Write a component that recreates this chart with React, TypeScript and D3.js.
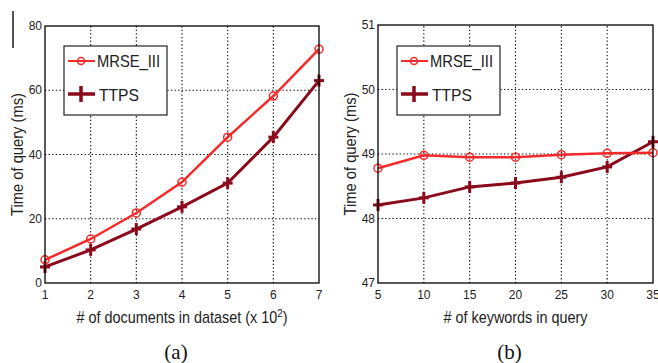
import * as d3 from 'd3';

// Panel (a): time vs number of documents (x 10^2)
const docsX = [1, 2, 3, 4, 5, 6, 7];
const docsMrse = [7.2, 13.7, 21.8, 31.4, 45.4, 58.2, 72.8];
const docsTtps = [5.0, 10.3, 16.8, 23.7, 31.1, 45.4, 63.0];
const docsYTicks = [0, 20, 40, 60, 80];

// Panel (b): time vs number of keywords
const kwX = [5, 10, 15, 20, 25, 30, 35];
const kwMrse = [48.78, 48.98, 48.95, 48.95, 48.99, 49.01, 49.02];
const kwTtps = [48.21, 48.32, 48.49, 48.55, 48.64, 48.8, 49.19];
const kwYTicks = [47, 48, 49, 50, 51];

const seriesNames = ['MRSE_III', 'TTPS'];

const RED = '#f52a2a';
const DARK = '#8a0a1c';
const FONT = '"Liberation Sans", Arial, sans-serif';

type PanelProps = {
  xs: number[];
  mrse: number[];
  ttps: number[];
  yTicks: number[];
  x0: number;
  x1: number;
  y0: number;
  y1: number;
  xLabel: React.ReactNode;
  xLabelScale: number;
  caption: string;
  yLabelX: number;
};

function Panel(p: PanelProps) {
  const x = d3.scaleLinear().domain([p.xs[0], p.xs[p.xs.length - 1]]).range([p.x0, p.x1]);
  const y = d3.scaleLinear().domain([p.yTicks[0], p.yTicks[p.yTicks.length - 1]]).range([p.y0, p.y1]);
  const line = d3.line<number>().x((_, i) => x(p.xs[i])).y((d) => y(d));
  const cx = (p.x0 + p.x1) / 2;
  const cy = (p.y0 + p.y1) / 2;
  const lx = p.x0 + 19;

  return (
    <g>
      {/* grid */}
      {p.xs.slice(1, -1).map((v) => (
        <line key={'gx' + v} x1={x(v)} x2={x(v)} y1={p.y0} y2={p.y1} stroke="#000" strokeWidth={1.1} strokeDasharray="1.3,2.3" />
      ))}
      {p.yTicks.slice(1, -1).map((v) => (
        <line key={'gy' + v} x1={p.x0} x2={p.x1} y1={y(v)} y2={y(v)} stroke="#000" strokeWidth={1.1} strokeDasharray="1.3,2.3" />
      ))}

      {/* lines */}
      <path d={line(p.ttps) || ''} fill="none" stroke={DARK} strokeWidth={3} />
      <path d={line(p.mrse) || ''} fill="none" stroke={RED} strokeWidth={2.5} />
      {p.ttps.map((v, i) => (
        <g key={'t' + i} stroke={DARK} strokeWidth={3}>
          <line x1={x(p.xs[i]) - 5} x2={x(p.xs[i]) + 5} y1={y(v)} y2={y(v)} />
          <line x1={x(p.xs[i])} x2={x(p.xs[i])} y1={y(v) - 6} y2={y(v) + 6} />
        </g>
      ))}
      {p.mrse.map((v, i) => (
        <circle key={'m' + i} cx={x(p.xs[i])} cy={y(v)} r={4} fill="none" stroke={RED} strokeWidth={1.5} />
      ))}

      {/* frame */}
      <rect x={p.x0} y={p.y1} width={p.x1 - p.x0} height={p.y0 - p.y1} fill="none" stroke="#000" strokeWidth={1.3} />

      {/* ticks */}
      {p.xs.map((v) => (
        <text key={'xt' + v} x={x(v)} y={p.y0 + 16} textAnchor="middle" fontSize={12} fontFamily={FONT} fill="#222">
          {v}
        </text>
      ))}
      {p.yTicks.map((v) => (
        <text key={'yt' + v} x={p.x0 - 3} y={y(v) + 4} textAnchor="end" fontSize={12} fontFamily={FONT} fill="#222">
          {v}
        </text>
      ))}

      {/* axis labels */}
      <text
        transform={`translate(${cx},${p.y0 + 40}) scale(${p.xLabelScale},1)`}
        textAnchor="middle"
        fontSize={16}
        fontFamily={FONT}
        fill="#222"
      >
        {p.xLabel}
      </text>
      <text
        transform={`translate(${p.yLabelX},${cy}) rotate(-90) scale(0.92,1)`}
        textAnchor="middle"
        fontSize={16}
        fontFamily={FONT}
        fill="#222"
      >
        Time of query (ms)
      </text>
      <text x={cx - 6} y={p.y0 + 76} textAnchor="middle" fontSize={21} fontFamily='"Liberation Serif", "Times New Roman", serif' fill="#111">
        {p.caption}
      </text>

      {/* legend */}
      <rect x={p.x0 + 19} y={46} width={103} height={69} fill="#fff" stroke="#222" strokeWidth={1.2} />
      <line x1={lx + 4} x2={lx + 31} y1={61} y2={61} stroke={RED} strokeWidth={2} />
      <circle cx={lx + 17} cy={61} r={3.5} fill="none" stroke={RED} strokeWidth={1.5} />
      <text x={lx + 33} y={67} fontSize={17} fontFamily={FONT} fill="#222" textLength={63} lengthAdjust="spacingAndGlyphs">
        {seriesNames[0]}
      </text>
      <g stroke={DARK} strokeWidth={3.5}>
        <line x1={lx + 4} x2={lx + 31} y1={94} y2={94} />
        <line x1={lx + 17} x2={lx + 17} y1={86} y2={102} />
      </g>
      <text x={lx + 35} y={101} fontSize={17} fontFamily={FONT} fill="#222" textLength={40} lengthAdjust="spacingAndGlyphs">
        {seriesNames[1]}
      </text>
    </g>
  );
}

export default function App() {
  return (
    <svg width={658} height={363} style={{ position: 'absolute', left: 0, top: 0, background: '#fff' }}>
      <rect width={658} height={363} fill="#fff" />
      <line x1={13} x2={13} y1={11} y2={48} stroke="#555" strokeWidth={2} />
      <Panel
        xs={docsX}
        mrse={docsMrse}
        ttps={docsTtps}
        yTicks={docsYTicks}
        x0={45}
        x1={319}
        y0={283}
        y1={26}
        xLabel={
          <>
            # of documents in dataset (x 10<tspan dy={-6} fontSize={11}>2</tspan>
            <tspan dy={6}>)</tspan>
          </>
        }
        xLabelScale={0.9}
        caption="(a)"
        yLabelX={23}
      />
      <Panel
        xs={kwX}
        mrse={kwMrse}
        ttps={kwTtps}
        yTicks={kwYTicks}
        x0={378}
        x1={653}
        y0={283}
        y1={25}
        xLabel="# of keywords in query"
        xLabelScale={0.9}
        caption="(b)"
        yLabelX={356}
      />
    </svg>
  );
}
